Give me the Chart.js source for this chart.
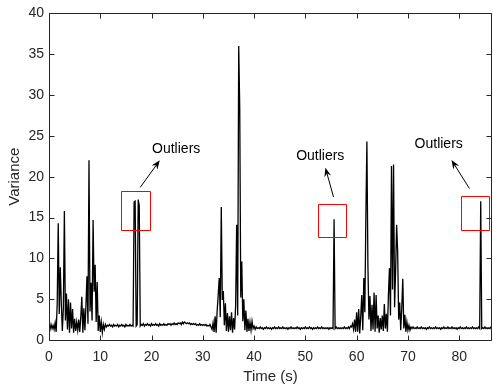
<!DOCTYPE html>
<html>
<head>
<meta charset="utf-8">
<script src="https://cdn.jsdelivr.net/npm/chart.js@4"></script>
<style>
  body { margin: 0; background: #fff; }
  #wrap { width: 493px; height: 389px; position: relative; }
</style>
</head>
<body>
<div id="wrap"><canvas id="myChart"></canvas></div>
<script>
// variance signal, one sample every 0.2 s, one row per second
var sampleStep = 0.2;
var variance = [
  1.7,1.3,1.9,1.4,1.8,   // 0
  1.3,2.1,1.0,4.4,14.3,  // 1
  3.2,8.9,4.5,1.1,3.9,   // 2
  15.8,2.4,5.7,1.3,5.0,  // 3
  0.9,4.6,1.4,3.8,0.9,   // 4
  2.6,1.1,2.2,1.2,2.5,   // 5
  1.0,2.8,5.3,0.9,3.9,   // 6
  1.2,4.1,7.8,2.0,22.0,  // 7
  3.5,7.0,2.4,14.7,5.9,  // 8
  9.2,2.2,7.1,1.1,3.0,   // 9
  1.0,2.2,0.9,1.9,1.3,   // 10
  1.9,1.6,1.8,1.7,1.9,   // 11
  1.7,1.8,1.6,1.9,1.7,   // 12
  1.8,1.7,1.9,1.6,1.8,   // 13
  1.7,1.9,1.7,1.8,1.6,   // 14
  1.9,1.7,1.8,1.7,1.9,   // 15
  1.7,1.8,1.7,16.9,17.0, // 16
  1.7,1.9,17.2,16.5,1.7, // 17
  1.9,1.8,2.0,1.7,1.9,   // 18
  1.8,2.0,1.8,1.9,1.7,   // 19
  2.0,1.8,1.9,1.8,2.0,   // 20
  1.8,1.9,1.7,2.0,1.8,   // 21
  1.9,1.8,2.0,1.8,1.9,   // 22
  1.8,2.0,1.9,2.0,1.8,   // 23
  2.0,1.9,2.1,1.9,2.0,   // 24
  1.9,2.1,2.0,2.1,1.9,   // 25
  2.2,2.0,2.2,2.1,2.0,   // 26
  2.1,2.0,2.1,1.9,2.0,   // 27
  1.9,2.0,1.9,2.0,1.8,   // 28
  1.9,1.8,2.0,1.8,1.9,   // 29
  1.8,1.9,1.8,1.9,1.7,   // 30
  1.8,1.7,1.9,1.6,1.3,   // 31
  2.1,1.0,2.9,0.9,3.6,   // 32
  5.5,7.6,2.8,16.3,4.9,  // 33
  6.0,1.8,4.5,1.1,3.3,   // 34
  1.0,2.9,1.2,3.4,0.9,   // 35
  2.7,1.3,4.2,14.1,3.0,  // 36
  36.0,28.5,5.2,9.6,2.3, // 37
  5.0,1.2,3.6,1.0,2.6,   // 38
  1.1,2.2,1.2,2.3,1.4,   // 39
  1.7,1.3,1.6,1.4,1.5,   // 40
  1.4,1.6,1.4,1.5,1.3,   // 41
  1.5,1.4,1.6,1.4,1.5,   // 42
  1.4,1.5,1.3,1.5,1.4,   // 43
  1.6,1.4,1.5,1.4,1.6,   // 44
  1.4,1.5,1.4,1.6,1.4,   // 45
  1.5,1.4,1.5,1.3,1.5,   // 46
  1.4,1.6,1.4,1.5,1.4,   // 47
  1.5,1.4,1.6,1.4,1.5,   // 48
  1.3,1.5,1.4,1.5,1.4,   // 49
  1.6,1.4,1.5,1.4,1.6,   // 50
  1.4,1.5,1.3,1.5,1.4,   // 51
  1.5,1.4,1.6,1.4,1.5,   // 52
  1.4,1.6,1.4,1.5,1.4,   // 53
  1.5,1.4,1.5,1.3,1.5,   // 54
  1.4,1.5,1.4,14.8,1.4,  // 55
  1.6,1.4,1.5,1.4,1.5,   // 56
  1.4,1.5,1.4,1.6,1.4,   // 57
  1.5,1.4,1.6,1.4,1.7,   // 58
  1.6,2.0,1.3,2.5,1.0,   // 59
  3.4,1.0,3.8,0.8,2.9,   // 60
  5.5,1.2,7.6,3.4,15.2,  // 61
  24.3,9.0,2.5,5.4,1.1,  // 62
  4.3,1.3,5.8,1.0,5.5,   // 63
  1.4,3.0,0.9,2.7,1.3,   // 64
  3.0,1.1,4.4,1.4,3.2,   // 65
  1.0,5.5,8.8,3.0,21.3,  // 66
  6.2,21.5,4.0,8.5,14.1, // 67
  10.8,2.5,4.6,1.2,3.9,  // 68
  7.5,1.4,3.1,1.0,2.2,   // 69
  1.2,1.8,1.2,1.6,1.4,   // 70
  1.6,1.4,1.5,1.4,1.6,   // 71
  1.4,1.5,1.4,1.6,1.4,   // 72
  1.5,1.4,1.5,1.3,1.5,   // 73
  1.4,1.6,1.4,1.5,1.4,   // 74
  1.5,1.4,1.6,1.4,1.5,   // 75
  1.4,1.5,1.3,1.5,1.4,   // 76
  1.6,1.4,1.5,1.4,1.6,   // 77
  1.4,1.5,1.4,1.6,1.4,   // 78
  1.5,1.4,1.5,1.3,1.5,   // 79
  1.4,1.6,1.4,1.5,1.4,   // 80
  1.5,1.4,1.6,1.4,1.5,   // 81
  1.4,1.5,1.4,1.6,1.4,   // 82
  1.5,1.4,1.5,1.4,1.6,   // 83
  1.4,17.0,1.4,1.5,1.4,  // 84
  1.6,1.4,1.5,1.4,1.5,   // 85
  1.4,1.6,1.4,1.5,1.4    // 86
];

var xTicks = [0, 10, 20, 30, 40, 50, 60, 70, 80];
var yTicks = [0, 5, 10, 15, 20, 25, 30, 35, 40];
var xMax = 86.4;

// outlier boxes [x0, x1, y0, y1] and notes (data units)
var outlierBoxes = [[14.1, 19.7, 13.5, 18.2], [52.5, 58.0, 12.65, 16.6], [80.3, 85.9, 13.5, 17.6]];
var arrows = [[17.8, 18.7, 21.6, 22.0], [55.5, 17.5, 53.9, 21.1], [82.0, 18.55, 78.5, 22.05]];
var notes = [[20.1, 23.4], [48.2, 22.5], [71.3, 24.0]];
var noteText = "Outliers";

var txtColor = '#262626';
var fontFam = '"Liberation Sans", Arial, Helvetica, sans-serif';

var points = variance.map(function (v, i) { return { x: i * sampleStep, y: v }; });

var boxPlugin = {
  id: 'boxPlugin',
  afterDatasetsDraw: function (chart) {
    var c = chart.ctx, a = chart.chartArea;
    var xs = chart.scales.x, ys = chart.scales.y;
    c.save();
    // outlier marks
    c.lineWidth = 1;
    c.strokeStyle = '#ff0000';
    outlierBoxes.forEach(function (b) {
      var x0 = Math.round(xs.getPixelForValue(b[0])) + 0.5, x1 = Math.round(xs.getPixelForValue(b[1])) + 0.5;
      var y0 = Math.round(ys.getPixelForValue(b[3])) + 0.5, y1 = Math.round(ys.getPixelForValue(b[2])) + 0.5;
      c.beginPath();
      c.rect(x0, y0, x1 - x0, y1 - y0);
      c.stroke();
    });
    c.strokeStyle = '#000';
    c.fillStyle = '#000';
    arrows.forEach(function (ar) {
      var x0 = xs.getPixelForValue(ar[0]), y0 = ys.getPixelForValue(ar[1]);
      var x1 = xs.getPixelForValue(ar[2]), y1 = ys.getPixelForValue(ar[3]);
      var ang = Math.atan2(y1 - y0, x1 - x0), co = Math.cos(ang), si = Math.sin(ang);
      c.beginPath(); c.moveTo(x0, y0); c.lineTo(x1 - 6 * co, y1 - 6 * si); c.stroke();
      c.beginPath();
      c.moveTo(x1, y1);
      c.lineTo(x1 - 9 * co + 3.5 * si, y1 - 9 * si - 3.5 * co);
      c.lineTo(x1 - 6 * co, y1 - 6 * si);
      c.lineTo(x1 - 9 * co - 3.5 * si, y1 - 9 * si + 3.5 * co);
      c.closePath(); c.fill();
    });
    c.font = '14px ' + fontFam;
    c.textAlign = 'left';
    c.textBaseline = 'middle';
    notes.forEach(function (n) {
      c.fillText(noteText, xs.getPixelForValue(n[0]), ys.getPixelForValue(n[1]));
    });
    // axes box and inward ticks
    c.strokeStyle = txtColor;
    var L = Math.round(a.left) + 0.5, R = Math.round(a.right) - 0.5;
    var T = Math.round(a.top) + 0.5, B = Math.round(a.bottom) + 0.5;
    c.beginPath();
    c.rect(L, T, R - L, B - T);
    xs.ticks.forEach(function (t) {
      var px = Math.round(xs.getPixelForValue(t.value)) + 0.5;
      c.moveTo(px, B); c.lineTo(px, B - 5);
      c.moveTo(px, T); c.lineTo(px, T + 5);
    });
    ys.ticks.forEach(function (t) {
      var py = Math.round(ys.getPixelForValue(t.value)) + 0.5;
      c.moveTo(L, py); c.lineTo(L + 5, py);
      c.moveTo(R, py); c.lineTo(R - 5, py);
    });
    c.stroke();
    c.restore();
  }
};

var ctx = document.getElementById('myChart').getContext('2d');
var myChart = new Chart(ctx, {
  type: 'line',
  data: {
    datasets: [{
      label: 'Variance',
      data: points,
      borderColor: '#000',
      borderWidth: 1.3,
      pointRadius: 0,
      tension: 0,
      fill: false
    }]
  },
  options: {
    responsive: true,
    maintainAspectRatio: false,
    animation: false,
    events: [],
    layout: { padding: { top: 8, right: 1, left: 0, bottom: 0 } },
    plugins: { legend: { display: false }, tooltip: { enabled: false } },
    scales: {
      x: {
        type: 'linear',
        min: 0,
        max: xMax,
        afterFit: function (s) { s.height = 49; },
        afterBuildTicks: function (s) { s.ticks = xTicks.map(function (v) { return { value: v }; }); },
        grid: { display: false, drawTicks: false },
        border: { display: false },
        ticks: { color: txtColor, font: { family: fontFam, size: 14 }, padding: 9, maxRotation: 0 },
        title: { display: true, text: 'Time (s)', color: txtColor, font: { family: fontFam, size: 15 }, padding: { top: 0, bottom: 3 } }
      },
      y: {
        min: 0,
        max: 40,
        afterFit: function (s) { s.width = 49; },
        afterBuildTicks: function (s) { s.ticks = yTicks.map(function (v) { return { value: v }; }); },
        grid: { display: false, drawTicks: false },
        border: { display: false },
        ticks: { color: txtColor, font: { family: fontFam, size: 14 }, padding: 5 },
        title: { display: true, text: 'Variance', color: txtColor, font: { family: fontFam, size: 15 }, padding: { top: 6, bottom: 0 } }
      }
    }
  },
  plugins: [boxPlugin]
});
</script>
</body>
</html>
